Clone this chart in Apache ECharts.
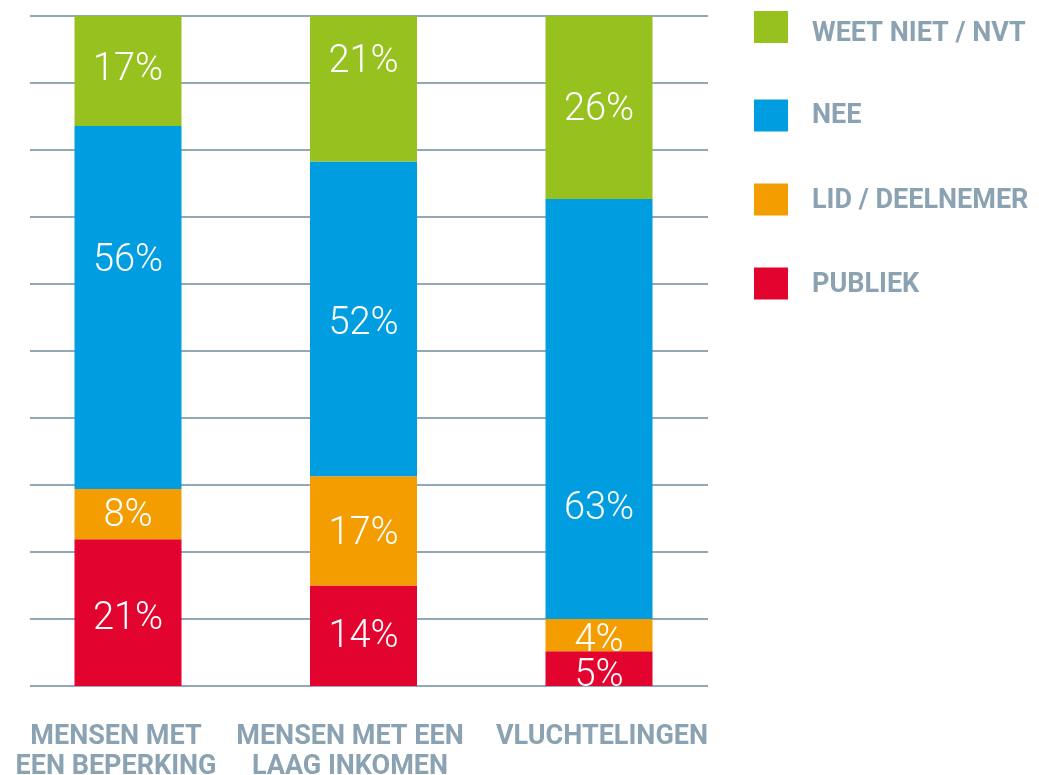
<!DOCTYPE html>
<html>
<head>
<meta charset="utf-8">
<script src="https://cdn.jsdelivr.net/npm/echarts@6/dist/echarts.min.js"></script>
<style>html,body{margin:0;padding:0;background:#fff}#c{width:1039px;height:775px}</style>
</head>
<body>
<div id="c"></div>
<script>
// Categories
const categories = ['MENSEN MET\nEEN BEPERKING', 'MENSEN MET EEN\nLAAG INKOMEN', 'VLUCHTELINGEN'];
// Printed percentages (labels)
const publiekPct = [21, 14, 5];
const lidPct = [8, 17, 4];
const neePct = [56, 52, 63];
const weetPct = [17, 21, 26];
// Segment heights (share of bar, %)
const publiekH = [21.9, 15.0, 5.2];
const lidH = [7.5, 16.3, 4.8];
const neeH = [54.2, 47.0, 62.7];
const weetH = [16.4, 21.7, 27.3];
// Axis ticks
const yTicks = { min: 0, max: 100, interval: 10 };
const seriesNames = ['PUBLIEK', 'LID / DEELNEMER', 'NEE', 'WEET NIET / NVT'];
const legendOrder = ['WEET NIET / NVT', 'NEE', 'LID / DEELNEMER', 'PUBLIEK'];

// Styling
const colors = { 'PUBLIEK': '#e2032e', 'LID / DEELNEMER': '#f39d00', 'NEE': '#009ee0', 'WEET NIET / NVT': '#97c11f' };
const labelShift = {
  'PUBLIEK': [7, 1.5, 7.5],
  'LID / DEELNEMER': [2.5, 3.5, 6.5],
  'NEE': [-46, 6, 101],
  'WEET NIET / NVT': [0, -26.5, 3]
};
const legendTextKey = { 'WEET NIET / NVT': 'k0', 'NEE': 'k1', 'LID / DEELNEMER': 'k2', 'PUBLIEK': 'k3' };
const legendTextTopPad = [14, 1, 4, 4];
const textGrey = '#8aa2b1';
const lineGrey = '#93a8b5';
const catPad = [[0, 24, 0, 0], [0, 27, 0, 0], [0, 0, 0, 6]];

const heights = [publiekH, lidH, neeH, weetH];
const pcts = [publiekPct, lidPct, neePct, weetPct];

const series = seriesNames.map((name, si) => ({
  name: name,
  type: 'bar',
  stack: 'total',
  xAxisIndex: 1,
  yAxisIndex: 1,
  barWidth: 107,
  itemStyle: { color: colors[name] },
  label: {
    show: true,
    position: 'inside',
    color: '#ffffff',
    fontFamily: 'Roboto',
    fontWeight: 300,
    fontSize: 38,
    formatter: p => pcts[si][p.dataIndex] + '%'
  },
  data: heights[si].map((v, i) => ({ value: v, label: { offset: [0, labelShift[name][i]] } }))
}));

const rich = {};
catPad.forEach((p, i) => {
  rich['c' + i] = { padding: p, fontFamily: 'Roboto', fontWeight: 'bold', fontSize: 27, color: textGrey, lineHeight: 30 };
});
const legendFont = { fontFamily: 'Roboto', fontWeight: 'bold', fontSize: 27, color: textGrey };
const legendRich = {};
legendTextTopPad.forEach((t, i) => {
  legendRich['k' + i] = Object.assign({ padding: [t, 0, 0, 19] }, legendFont);
});

const chart = echarts.init(document.getElementById('c'), null, { renderer: 'canvas' });
chart.setOption({
  animation: false,
  backgroundColor: '#ffffff',
  legend: {
    data: legendOrder,
    orient: 'vertical',
    left: 749,
    top: 6,
    itemWidth: 34,
    itemHeight: 32,
    itemGap: 52,
    icon: 'rect',
    selectedMode: false,
    formatter: n => '{' + legendTextKey[n] + '|' + n + '}',
    textStyle: Object.assign({ rich: legendRich }, legendFont)
  },
  grid: [
    { left: 30, right: 331, top: 16, height: 670, outerBoundsMode: 'none', containLabel: false },
    { left: 10.25, width: 706.5, top: 16, height: 670, outerBoundsMode: 'none', containLabel: false }
  ],
  xAxis: [
    { type: 'category', gridIndex: 0, data: categories, show: false },
    {
      type: 'category', gridIndex: 1, data: categories,
      axisLine: { show: false }, axisTick: { show: false },
      axisLabel: {
        margin: 36, interval: 0,
        formatter: (v, i) => v.split('\n').map(l => '{c' + i + '|' + l + '}').join('\n'),
        rich: rich
      }
    }
  ],
  yAxis: [
    {
      type: 'value', gridIndex: 0, min: yTicks.min, max: yTicks.max, interval: yTicks.interval,
      axisLine: { show: false }, axisTick: { show: false }, axisLabel: { show: false },
      splitLine: { show: true, lineStyle: { color: lineGrey, width: 2 } }
    },
    {
      type: 'value', gridIndex: 1, min: yTicks.min, max: yTicks.max, interval: yTicks.interval,
      show: false, splitLine: { show: false }
    }
  ],
  series: series
});
</script>
</body>
</html>
